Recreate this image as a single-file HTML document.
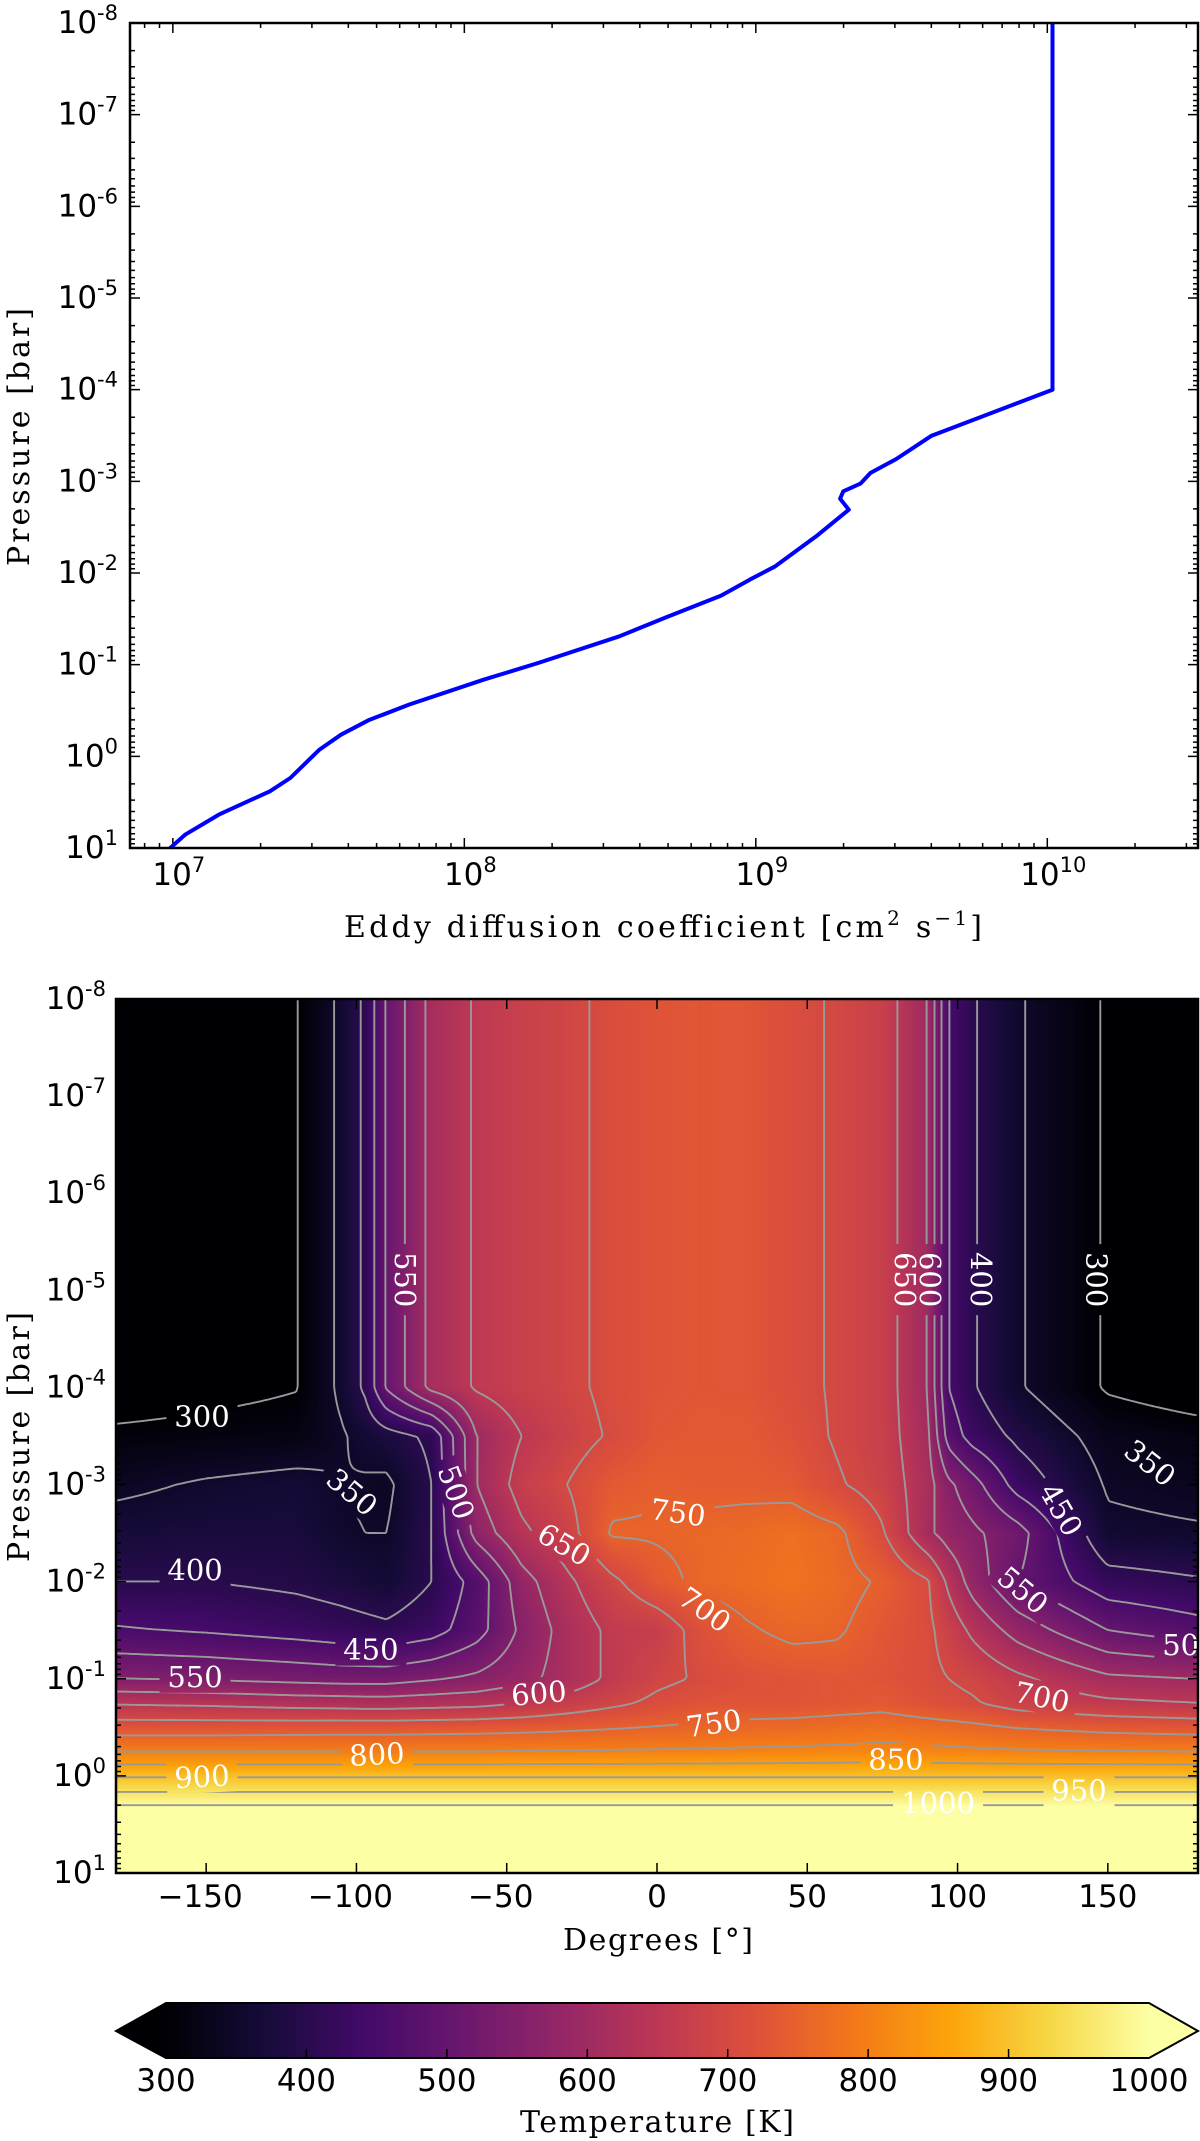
<!DOCTYPE html>
<html>
<head>
<meta charset="utf-8">
<style>
html,body{margin:0;padding:0;background:#fff;}
#root{position:relative;width:1200px;height:2141px;overflow:hidden;background:#fff;}
#heat{position:absolute;left:116px;top:999px;}
#svg{position:absolute;left:0;top:0;}
.tick{font-family:"DejaVu Sans","Liberation Sans",sans-serif;font-size:31px;fill:#000;}
.lab{font-family:"DejaVu Serif","Liberation Serif",serif;font-size:30px;fill:#000;}
.clab{font-family:"DejaVu Serif","Liberation Serif",serif;font-size:29px;fill:#fff;}
</style>
</head>
<body>
<div id="root">
<canvas id="heat" width="1082" height="874"></canvas>
<svg id="svg" width="1200" height="2141" viewBox="0 0 1200 2141" xmlns="http://www.w3.org/2000/svg">
  <defs>
    <linearGradient id="cbgrad" x1="0" y1="0" x2="1" y2="0"></linearGradient>
    <mask id="labmask" maskUnits="userSpaceOnUse" x="0" y="0" width="1200" height="2141">
      <rect x="0" y="0" width="1200" height="2141" fill="#fff"/>
      <g id="maskholes"></g>
    </mask>
    <clipPath id="botclip"><rect x="116" y="999" width="1082" height="874"/></clipPath>
  </defs>
  <g id="top-panel">
    <g id="topTicks"></g>
    <path id="kzzLine" fill="none" stroke="#0000ff" stroke-width="4" stroke-linejoin="round"/>
    <rect x="130" y="23" width="1068" height="825" fill="none" stroke="#000" stroke-width="2.5"/>
    <g id="topLabels"></g>
    <text class="lab" x="663" y="937" text-anchor="middle" textLength="638">Eddy diffusion coefficient [cm<tspan font-size="20" dy="-12">2</tspan><tspan dy="12"> s</tspan><tspan font-size="20" dy="-12">−1</tspan><tspan dy="12">]</tspan></text>
    <text class="lab" transform="translate(29,437) rotate(-90)" text-anchor="middle" textLength="258">Pressure [bar]</text>
  </g>
  <g id="bottom-panel">
    <g clip-path="url(#botclip)"><path id="contours" fill="none" stroke="#999999" stroke-width="1.9" mask="url(#labmask)"/></g>
    <g id="clabels" clip-path="url(#botclip)"></g>
    <g id="botTicks"></g>
    <rect x="116" y="999" width="1082" height="874" fill="none" stroke="#000" stroke-width="2.5"/>
    <g id="botLabels"></g>
    <text class="lab" x="658" y="1950" text-anchor="middle" textLength="190">Degrees [°]</text>
    <text class="lab" transform="translate(29,1437) rotate(-90)" text-anchor="middle" textLength="250">Pressure [bar]</text>
  </g>
  <g id="colorbar">
    <polygon points="166,2003 116,2031 166,2058" fill="#000004"/>
    <polygon points="1149,2003 1198,2031 1149,2058" fill="#fcffa4"/>
    <rect x="166" y="2003" width="983" height="55" fill="url(#cbgrad)"/>
    <polygon points="166,2003 1149,2003 1198,2031 1149,2058 166,2058 116,2031" fill="none" stroke="#000" stroke-width="2"/>
    <g id="cbTicks"></g>
    <text class="lab" x="657" y="2132" text-anchor="middle" textLength="274">Temperature [K]</text>
  </g>
</svg>
</div>
<script>
// ---------- top panel data ----------
const kzzLog10 = [10.018, 10.018, 9.603, 9.482, 9.393, 9.359, 9.300, 9.289, 9.319, 9.207, 9.067, 8.979, 8.881, 8.695, 8.532, 8.253, 8.066, 7.810, 7.671, 7.577, 7.503, 7.403, 7.333, 7.158, 7.042, 6.991];
const kzzPresLog10 = [-8, -4, -3.498, -3.244, -3.091, -2.975, -2.891, -2.811, -2.691, -2.40, -2.073, -1.927, -1.753, -1.520, -1.309, -1.018, -0.836, -0.564, -0.393, -0.236, -0.073, 0.236, 0.382, 0.636, 0.855, 1.0];
const topXTickExps = [7, 8, 9, 10];
const presTickExps = [-8, -7, -6, -5, -4, -3, -2, -1, 0, 1];

// ---------- bottom panel data ----------
const lonCols = [-180,-150,-120,-105,-97,-90,-75,-60,-45,-30,-15,0,15,30,45,60,75,90,97,105,120,150,180];
const logPRows = [-8,-4,-3.5,-3,-2.5,-2,-1.5,-1,-0.75,-0.5,-0.25,0,0.15,0.3,0.35,1];
const tempGrid = [
 [270,285,298,360,410,505,615,655,675,690,710,725,730,728,712,695,675,600,450,405,355,295,275],
 [270,285,298,360,410,505,615,655,675,690,710,725,730,728,712,695,675,600,450,405,355,295,275],
 [310,315,320,345,365,380,410,600,650,680,705,730,735,735,720,695,675,610,480,430,390,330,318],
 [340,355,365,350,345,340,400,600,670,700,735,745,740,740,735,705,680,620,560,520,430,345,335],
 [370,375,375,355,350,350,400,570,640,680,755,755,760,765,775,760,705,610,580,560,520,360,355],
 [400,400,390,380,372,365,400,470,580,640,690,735,760,770,780,765,745,705,640,580,500,420,405],
 [455,445,430,420,415,410,430,480,560,620,660,670,720,745,760,755,730,710,680,640,580,500,470],
 [550,545,535,530,530,530,545,560,585,620,660,690,705,720,725,730,725,710,700,690,660,610,600],
 [645,640,630,628,625,625,630,635,650,670,690,710,725,725,725,730,735,720,712,705,680,660,650],
 [725,725,727,728,728,728,730,732,735,740,746,752,757,762,765,770,775,768,765,760,748,735,728],
 [800,800,800,800,800,800,800,800,802,803,804,805,806,808,810,812,815,812,810,808,805,802,800],
 [895,895,895,895,895,895,895,895,895,895,895,895,895,895,895,895,895,895,895,895,895,895,895],
 [945,945,945,945,945,945,945,945,945,945,945,945,945,945,945,945,945,945,945,945,945,945,945],
 [995,995,995,995,995,995,995,995,995,995,995,995,995,995,995,995,995,995,995,995,995,995,995],
 [1040,1040,1040,1040,1040,1040,1040,1040,1040,1040,1040,1040,1040,1040,1040,1040,1040,1040,1040,1040,1040,1040,1040],
 [1060,1060,1060,1060,1060,1060,1060,1060,1060,1060,1060,1060,1060,1060,1060,1060,1060,1060,1060,1060,1060,1060,1060]
];
const contourLevels = [300,350,400,450,500,550,600,650,700,750,800,850,900,950,1000];
const lonTicks = [-150,-100,-50,0,50,100,150];
const cbTicks = [300,400,500,600,700,800,900,1000];
const clabText = ["550","300","350","500","650","400","450","550","600","750","700","650","600","400","300","350","450","550","500","700","750","800","900","850","950","1000"];
const clabLon  = [-83.9,-151.4,-101.5,-66.9,-30.9,-153.7,-95.2,-153.7,-39.3,7.0,15.9,82.5,90.8,107.8,146.3,164,134.4,121.7,177.3,128.1,18.9,-93.2,-151.4,79.5,140.4,93.5];
const clabLogP = [-5.11,-3.70,-2.92,-2.92,-2.38,-2.12,-1.30,-1.02,-0.85,-2.71,-1.71,-5.11,-5.11,-5.11,-5.11,-3.22,-2.74,-1.91,-1.35,-0.81,-0.54,-0.22,0.01,-0.17,0.15,0.28];
const clabAngle = [90,0,40,70,30,0,0,0,-5,8,35,90,90,90,90,38,60,40,0,12,-8,-3,-3,0,0,0];

const NS = "http://www.w3.org/2000/svg";
const colorStops = ["#000004","#160b39","#420a68","#6a176e","#932667","#bc3754","#dd513a","#f37819","#fca50a","#f6d746","#fcffa4"];

const topX = l => 130 + (l - 6.853) * 1068 / 3.664;
const topY = lp => 23 + (lp + 8) * 825 / 9;
const botX = lon => 116 + (lon + 180) * 1082 / 360;
const botY = lp => 999 + (lp + 8) * 874 / 9;
const cbX = t => 166 + (t - 300) * 983 / 700;

function hexToRgb(h){return [parseInt(h.substr(1,2),16),parseInt(h.substr(3,2),16),parseInt(h.substr(5,2),16)];}
const stopRgb = colorStops.map(hexToRgb);
function cmap(t){
  let v = (t - 300) / 700; if (v < 0) v = 0; if (v > 1) v = 1;
  const f = v * 10; let i = Math.floor(f); if (i >= 10) i = 9; const r = f - i;
  const a = stopRgb[i], b = stopRgb[i+1];
  return [a[0]+(b[0]-a[0])*r, a[1]+(b[1]-a[1])*r, a[2]+(b[2]-a[2])*r];
}
function findIdx(arr, v){
  if (v <= arr[0]) return [0, 0];
  if (v >= arr[arr.length-1]) return [arr.length-2, 1];
  for (let i = 0; i < arr.length-1; i++){
    if (v >= arr[i] && v <= arr[i+1]) return [i, (v-arr[i])/(arr[i+1]-arr[i])];
  }
  return [arr.length-2, 1];
}
function tempAt(lon, lp){
  const [i, fx] = findIdx(lonCols, lon);
  const [j, fy] = findIdx(logPRows, lp);
  const a = tempGrid[j][i], b = tempGrid[j][i+1], c = tempGrid[j+1][i], d = tempGrid[j+1][i+1];
  return (a*(1-fx) + b*fx) * (1-fy) + (c*(1-fx) + d*fx) * fy;
}

(function(){
  const cv = document.getElementById('heat');
  const ctx = cv.getContext('2d');
  const W = cv.width, H = cv.height;
  const img = ctx.createImageData(W, H);
  for (let py = 0; py < H; py++){
    const lp = -8 + (py + 0.5) * 9 / H;
    for (let px = 0; px < W; px++){
      const lon = -180 + (px + 0.5) * 360 / W;
      const c = cmap(tempAt(lon, lp));
      const k = (py * W + px) * 4;
      img.data[k] = c[0]; img.data[k+1] = c[1]; img.data[k+2] = c[2]; img.data[k+3] = 255;
    }
  }
  ctx.putImageData(img, 0, 0);
})();

(function(){
  const step = 3;
  const nx = Math.ceil(1082 / step) + 1, ny = Math.ceil(874 / step) + 1;
  const vals = [];
  for (let j = 0; j < ny; j++){
    const row = [];
    const y = Math.min(999 + j * step, 1873);
    const lp = -8 + (y - 999) * 9 / 874;
    for (let i = 0; i < nx; i++){
      const x = Math.min(116 + i * step, 1198);
      const lon = -180 + (x - 116) * 360 / 1082;
      row.push(tempAt(lon, lp));
    }
    vals.push(row);
  }
  let d = "";
  contourLevels.forEach(L => {
    for (let j = 0; j < ny - 1; j++){
      const y0 = Math.min(999 + j * step, 1873), y1 = Math.min(999 + (j+1) * step, 1873);
      for (let i = 0; i < nx - 1; i++){
        const x0 = Math.min(116 + i * step, 1198), x1 = Math.min(116 + (i+1) * step, 1198);
        const a = vals[j][i], b = vals[j][i+1], c = vals[j+1][i+1], e = vals[j+1][i];
        const pts = [];
        if ((a < L) !== (b < L)) pts.push([x0 + (L-a)/(b-a)*(x1-x0), y0]);
        if ((b < L) !== (c < L)) pts.push([x1, y0 + (L-b)/(c-b)*(y1-y0)]);
        if ((e < L) !== (c < L)) pts.push([x0 + (L-e)/(c-e)*(x1-x0), y1]);
        if ((a < L) !== (e < L)) pts.push([x0, y0 + (L-a)/(e-a)*(y1-y0)]);
        for (let k = 0; k + 1 < pts.length; k += 2){
          d += "M" + pts[k][0].toFixed(1) + " " + pts[k][1].toFixed(1) + "L" + pts[k+1][0].toFixed(1) + " " + pts[k+1][1].toFixed(1);
        }
      }
    }
  });
  document.getElementById('contours').setAttribute('d', d);
})();

(function(){
  const g = document.getElementById('clabels');
  const holes = document.getElementById('maskholes');
  for (let k = 0; k < clabText.length; k++){
    const x = botX(clabLon[k]), y = botY(clabLogP[k]);
    const w = clabText[k].length * 19 + 14;
    const r = document.createElementNS(NS, 'rect');
    r.setAttribute('x', -w/2); r.setAttribute('y', -16); r.setAttribute('width', w); r.setAttribute('height', 32);
    r.setAttribute('fill', '#000');
    r.setAttribute('transform', 'translate(' + x + ',' + y + ') rotate(' + clabAngle[k] + ')');
    
    
    holes.appendChild(r);
    const t = document.createElementNS(NS, 'text');
    t.setAttribute('class', 'clab');
    t.setAttribute('text-anchor', 'middle');
    t.setAttribute('dominant-baseline', 'central');
    t.setAttribute('transform', 'translate(' + x + ',' + y + ') rotate(' + clabAngle[k] + ')');
    t.textContent = clabText[k];
    
    
    g.appendChild(t);
  }
})();

(function(){
  let d = "";
  for (let i = 0; i < kzzLog10.length; i++){
    d += (i ? "L" : "M") + topX(kzzLog10[i]).toFixed(1) + " " + topY(kzzPresLog10[i]).toFixed(1);
  }
  document.getElementById('kzzLine').setAttribute('d', d);
  const tg = document.getElementById('topTicks');
  const lg = document.getElementById('topLabels');
  let td = "";
  for (let e = 6; e <= 10; e++){
    for (let m = 1; m <= 9; m++){
      const l = e + Math.log10(m);
      if (l < 6.853 || l > 10.517) continue;
      const x = topX(l); const len = m === 1 ? 10 : 5;
      td += "M" + x + " 848v-" + len + "M" + x + " 23v" + len;
    }
  }
  for (let e = -8; e <= 1; e++){
    for (let m = 1; m <= 9; m++){
      const lp = e + Math.log10(m);
      if (lp > 1.0001) continue;
      const y = topY(lp); const len = m === 1 ? 10 : 5;
      td += "M130 " + y + "h" + len + "M1198 " + y + "h-" + len;
    }
  }
  const p = document.createElementNS(NS, 'path');
  p.setAttribute('d', td); p.setAttribute('stroke', '#000'); p.setAttribute('stroke-width', '1.5'); p.setAttribute('fill', 'none');
  
  
  tg.appendChild(p);
  topXTickExps.forEach(e => {
    const t = document.createElementNS(NS, 'text');
    t.setAttribute('class', 'tick'); t.setAttribute('x', topX(e) + 6); t.setAttribute('y', 885); t.setAttribute('text-anchor', 'middle');
    t.innerHTML = '10<tspan font-size="21" dy="-13">' + e + '</tspan>';
    
    
    lg.appendChild(t);
  });
  presTickExps.forEach(e => {
    const t = document.createElementNS(NS, 'text');
    t.setAttribute('class', 'tick'); t.setAttribute('x', 118); t.setAttribute('y', topY(e) + 10); t.setAttribute('text-anchor', 'end');
    t.innerHTML = '10<tspan font-size="21" dy="-13">' + (e < 0 ? '-' + (-e) : e) + '</tspan>';
    
    
    lg.appendChild(t);
  });
})();

(function(){
  const tg = document.getElementById('botTicks');
  const lg = document.getElementById('botLabels');
  let td = "";
  lonTicks.forEach(v => { const x = botX(v); td += "M" + x + " 1873v-10M" + x + " 999v10"; });
  for (let e = -8; e <= 1; e++){
    for (let m = 1; m <= 9; m++){
      const lp = e + Math.log10(m);
      if (lp > 1.0001) continue;
      const y = botY(lp); const len = m === 1 ? 10 : 5;
      td += "M116 " + y + "h" + len + "M1198 " + y + "h-" + len;
    }
  }
  const p = document.createElementNS(NS, 'path');
  p.setAttribute('d', td); p.setAttribute('stroke', '#000'); p.setAttribute('stroke-width', '1.5'); p.setAttribute('fill', 'none');
  
  
  tg.appendChild(p);
  lonTicks.forEach(v => {
    const t = document.createElementNS(NS, 'text');
    t.setAttribute('class', 'tick'); t.setAttribute('x', botX(v) - (v < 0 ? 6 : 0)); t.setAttribute('y', 1907); t.setAttribute('text-anchor', 'middle');
    t.textContent = v < 0 ? '−' + (-v) : String(v);
    
    
    lg.appendChild(t);
  });
  presTickExps.forEach(e => {
    const t = document.createElementNS(NS, 'text');
    t.setAttribute('class', 'tick'); t.setAttribute('x', 106); t.setAttribute('y', botY(e) + 10); t.setAttribute('text-anchor', 'end');
    t.innerHTML = '10<tspan font-size="21" dy="-13">' + (e < 0 ? '-' + (-e) : e) + '</tspan>';
    
    
    lg.appendChild(t);
  });
})();

(function(){
  const grad = document.getElementById('cbgrad');
  for (let i = 0; i <= 40; i++){
    const t = 300 + i * 700 / 40;
    const c = cmap(t);
    const s = document.createElementNS(NS, 'stop');
    s.setAttribute('offset', (i / 40).toFixed(3));
    s.setAttribute('stop-color', 'rgb(' + Math.round(c[0]) + ',' + Math.round(c[1]) + ',' + Math.round(c[2]) + ')');
    grad.appendChild(s);
  }
  const g = document.getElementById('cbTicks');
  let td = "";
  cbTicks.forEach(v => { if (v > 300 && v < 1000) td += "M" + cbX(v) + " 2058v-9"; });
  const p = document.createElementNS(NS, 'path');
  p.setAttribute('d', td); p.setAttribute('stroke', '#000'); p.setAttribute('stroke-width', '1.5');
  
  
  g.appendChild(p);
  cbTicks.forEach(v => {
    const t = document.createElementNS(NS, 'text');
    t.setAttribute('class', 'tick'); t.setAttribute('x', cbX(v)); t.setAttribute('y', 2091); t.setAttribute('text-anchor', 'middle');
    t.textContent = String(v);
    
    
    g.appendChild(t);
  });
})();
</script>
</body>
</html>
